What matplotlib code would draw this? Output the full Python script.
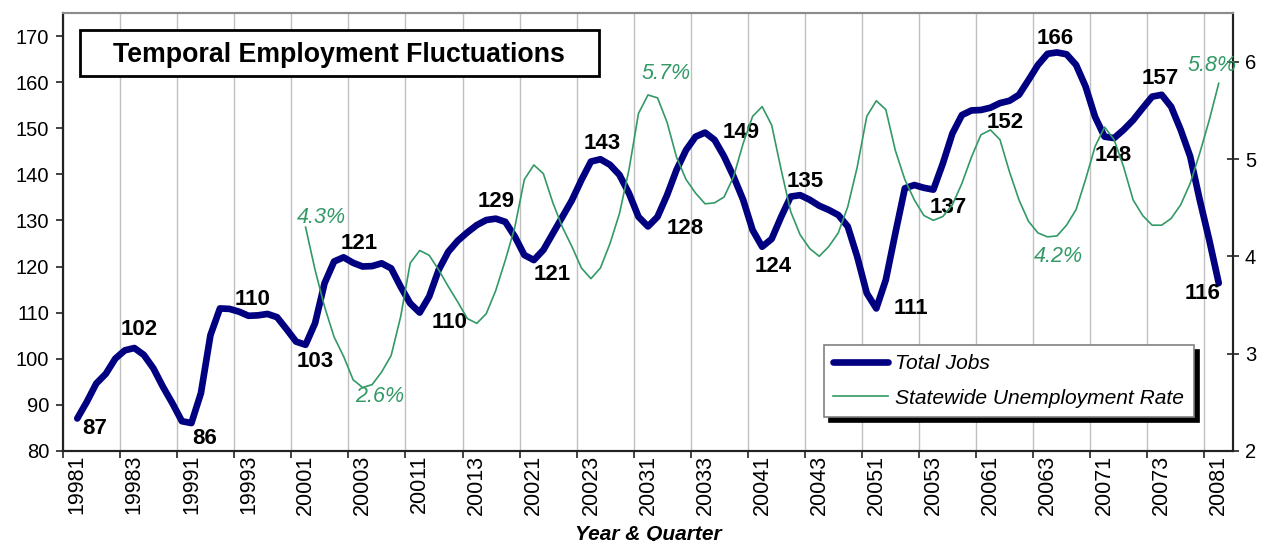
import numpy as np
import matplotlib
matplotlib.use('Agg')
import matplotlib.pyplot as plt
from matplotlib.patches import Rectangle

plt.rcParams['font.family'] = ['Liberation Sans', 'DejaVu Sans']

# monthly series, Jan 1998 .. Jan 2008 (x axis categories are quarters)
quarter_labels = ['19981', '19983', '19991', '19993', '20001', '20003', '20011', '20013',
                  '20021', '20023', '20031', '20033', '20041', '20043', '20051', '20053',
                  '20061', '20063', '20071', '20073', '20081']

total_jobs = [87.0, 90.6, 94.6, 96.7, 100.0, 101.8, 102.3, 100.8, 97.9, 93.9,
              90.3, 86.4, 86.0, 92.5, 105.1, 110.9, 110.8, 110.2, 109.3, 109.4,
              109.7, 109.0, 106.4, 103.7, 103.0, 107.7, 116.4, 121.1, 122.0, 120.8,
              120.0, 120.1, 120.7, 119.6, 115.6, 112.0, 110.0, 113.5, 119.3, 123.2,
              125.6, 127.4, 129.0, 130.1, 130.4, 129.7, 126.5, 122.5, 121.4, 123.6,
              127.2, 130.8, 134.4, 138.8, 142.8, 143.3, 142.1, 139.9, 135.9, 130.8,
              128.7, 130.8, 135.5, 141.0, 145.3, 148.2, 149.1, 147.5, 143.9, 139.5,
              134.5, 127.9, 124.3, 126.0, 130.8, 135.2, 135.5, 134.5, 133.2, 132.3,
              131.2, 128.7, 122.1, 114.2, 110.9, 117.1, 127.2, 137.0, 137.7, 137.1,
              136.7, 142.4, 148.9, 152.9, 153.9, 154.0, 154.5, 155.5, 156.0, 157.3,
              160.5, 163.8, 166.2, 166.5, 166.1, 163.8, 159.1, 152.5, 148.2, 147.9,
              149.7, 151.8, 154.4, 156.9, 157.3, 154.7, 149.7, 143.9, 134.5, 125.8,
              116.4]

# unemployment rate starts Jan 2000 (month 24)
unemp_start = 24
unemp_rate = [4.30, 3.86, 3.48, 3.17, 2.97, 2.73, 2.65, 2.68, 2.81, 2.98,
              3.38, 3.93, 4.06, 4.01, 3.86, 3.69, 3.53, 3.36, 3.31, 3.41,
              3.65, 3.96, 4.30, 4.79, 4.94, 4.85, 4.55, 4.30, 4.10, 3.88,
              3.77, 3.88, 4.13, 4.44, 4.89, 5.47, 5.66, 5.63, 5.38, 5.02,
              4.79, 4.65, 4.54, 4.55, 4.61, 4.82, 5.16, 5.44, 5.54, 5.35,
              4.89, 4.46, 4.22, 4.08, 4.00, 4.10, 4.24, 4.51, 4.92, 5.44,
              5.60, 5.51, 5.09, 4.79, 4.58, 4.42, 4.37, 4.41, 4.53, 4.75,
              5.02, 5.25, 5.30, 5.20, 4.87, 4.58, 4.36, 4.24, 4.20, 4.21,
              4.32, 4.48, 4.79, 5.13, 5.33, 5.20, 4.92, 4.58, 4.42, 4.32,
              4.32, 4.39, 4.53, 4.75, 5.06, 5.40, 5.78]

# labelled points: (month index, text)
jobs_marks = [(0, '87'), (6, '102'), (12, '86'), (16, '110'), (24, '103'), (28, '121'),
              (36, '110'), (44, '129'), (48, '121'), (55, '143'), (60, '128'), (66, '149'),
              (72, '124'), (76, '135'), (84, '111'), (90, '137'), (96, '152'), (103, '166'),
              (109, '148'), (114, '157'), (120, '116')]
rate_marks = [(24, '4.3%'), (30, '2.6%'), (60, '5.7%'), (102, '4.2%'), (120, '5.8%')]

# label offsets in pixels (screen: +x right, +y down)
jobs_off = [(17, 10), (5, -19), (13, 15), (23, -9), (10, 17), (16, -14), (30, 10), (0, -17),
            (18, 14), (2, -16), (37, 2), (36, 0), (11, 20), (5, -14), (35, 0), (15, 18),
            (15, 15), (-2, -14), (-1, 17), (-1, -16), (-16, 10)]
rate_off = [(16, -10), (17, 9), (18, -21), (11, 20), (-7, -18)]

NAVY = '#000080'
GREEN = '#339966'

months = np.arange(len(total_jobs))
t = months / 3.0  # position in quarter units
t_rate = t[unemp_start:]

fig = plt.figure(figsize=(12.62, 5.41), dpi=100, facecolor='w')
ax = fig.add_axes([63 / 1262, 1 - 450.7 / 541, 1170 / 1262, 437.4 / 541])
ax2 = ax.twinx()

ax.plot(t, total_jobs, color=NAVY, lw=4.8, solid_capstyle='round', solid_joinstyle='round',
        label='Total Jobs', zorder=3)
ax2.plot(t_rate, unemp_rate, color=GREEN, lw=1.2, label='Statewide Unemployment Rate', zorder=3)

ax.set_xlim(-0.5, 40.5)
ax.set_ylim(80, 175)
ax2.set_ylim(2, 6.5)
ax.set_yticks(np.arange(80, 171, 10))
ax2.set_yticks([2, 3, 4, 5, 6])

# category boundaries every 2 quarters, labels at category centers
ax.set_xticks(np.arange(-0.5, 40, 2))
ax.set_xticklabels([])
ax.set_xticks(np.arange(0, 41, 2), minor=True)
ax.set_xticklabels(quarter_labels, minor=True, rotation=90, fontsize=15.5)
ax.tick_params(axis='x', which='major', direction='out', length=5, width=1.2, color='#222222')
ax.tick_params(axis='x', which='minor', length=0, pad=3)
ax.xaxis.grid(True, which='major', color='#c0c0c0', lw=1)
ax.set_axisbelow(True)
ax.tick_params(axis='y', direction='out', length=5, width=1.2, labelsize=14.5, pad=5,
               color='#222222')
ax2.tick_params(axis='y', direction='inout', length=9, width=1.2, labelsize=14.5, pad=4,
                color='#222222')

for a in (ax, ax2):
    for s in ('left', 'right', 'bottom'):
        a.spines[s].set_color('#222222')
        a.spines[s].set_linewidth(1.5)
    a.spines['top'].set_color('#8c8c8c')
    a.spines['top'].set_linewidth(1.5)

for (m, txt), (dx, dy) in zip(jobs_marks, jobs_off):
    ax.annotate(txt, (t[m], total_jobs[m]), xytext=(dx, -dy), textcoords='offset pixels',
                ha='center', va='center', fontsize=16, fontweight='bold', color='black',
                zorder=5)
for (m, txt), (dx, dy) in zip(rate_marks, rate_off):
    ax2.annotate(txt, (t[m], unemp_rate[m - unemp_start]), xytext=(dx, -dy),
                 textcoords='offset pixels', ha='center', va='center', fontsize=15.5,
                 style='italic', color=GREEN, zorder=5)

# title box
fig.add_artist(Rectangle((80 / 1262, 1 - 76 / 541), 519 / 1262, 46 / 541,
                         transform=fig.transFigure, facecolor='white', edgecolor='black',
                         lw=2, zorder=5))
fig.text(339 / 1262, 1 - 55 / 541, 'Temporal Employment Fluctuations', ha='center',
         va='center', fontsize=19.3, fontweight='bold', zorder=6)

fig.text(648 / 1262, 1.5 / 541, 'Year & Quarter', ha='center', va='baseline',
         fontsize=15, fontweight='bold', style='italic')

h1, l1 = ax.get_legend_handles_labels()
h2, l2 = ax2.get_legend_handles_labels()
leg = ax2.legend(h1 + h2, l1 + l2, loc='upper left', bbox_to_anchor=(824 / 1262, 1 - 345 / 541),
                 bbox_transform=fig.transFigure, borderaxespad=0, fancybox=False,
                 framealpha=1, edgecolor='#808080', handlelength=2.6, handletextpad=0.35,
                 labelspacing=0.72, borderpad=0.45, prop={'size': 15.1, 'style': 'italic'},
                 shadow={'color': 'black', 'alpha': 1, 'ox': 3.6, 'oy': -3.6})
leg.get_frame().set_linewidth(1.2)
leg.set_zorder(10)

fig.savefig('out.png', dpi=100)
